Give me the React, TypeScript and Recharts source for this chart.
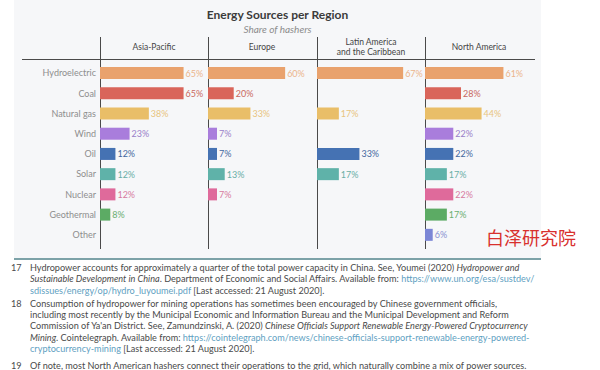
import { BarChart, Bar, XAxis, YAxis, Cell, LabelList } from 'recharts';

const CATEGORIES = [
  'Hydroelectric', 'Coal', 'Natural gas', 'Wind', 'Oil',
  'Solar', 'Nuclear', 'Geothermal', 'Other',
];

const REGIONS = ['Asia-Pacific', 'Europe', 'Latin America\nand the Caribbean', 'North America'];

const ASIA_PACIFIC = [65, 65, 38, 23, 12, 12, 12, 8, null];
const EUROPE = [60, 20, 33, 7, 7, 13, 7, null, null];
const LATIN_AMERICA = [67, null, 17, null, 33, 17, null, null, null];
const NORTH_AMERICA = [61, 28, 44, 22, 22, 17, 22, 17, 6];

const BAR_COLORS = [
  '#e9a26d', '#d9655a', '#e9be68', '#a97ddc', '#4572b3',
  '#5fb2a9', '#df6a9b', '#5cab64', '#7b86d6',
];
const LABEL_COLORS = [
  '#ebb48b', '#c9675e', '#e8c47e', '#9a80c9', '#44689f',
  '#69aea6', '#d67aa0', '#6aae70', '#8a92d2',
];

const KEYS = ['ap', 'eu', 'la', 'na'];
const SERIES = [ASIA_PACIFIC, EUROPE, LATIN_AMERICA, NORTH_AMERICA];

// each row also carries its category index per region, so labels can find their colour
const data = CATEGORIES.map((cat, i) => {
  const row: Record<string, any> = { cat };
  KEYS.forEach((k, s) => {
    row[k] = SERIES[s][i];
    row[k + 'Cat'] = SERIES[s][i] == null ? null : i;
  });
  return row;
});

const FONT = 'Lato, "Open Sans", sans-serif';
const PANEL_X = [100, 208, 317, 425];
const PANEL_W = 108;
const PLOT_TOP = 63;
const PLOT_H = 182;
const LABEL_W = 100;

function ValueLabel(props: any) {
  const { x, y, width, height, value, series } = props;
  if (value == null) return null;
  const v = SERIES[series][value];
  if (v == null) return null;
  return (
    <text
      x={x + width + 2}
      y={y + height / 2}
      dominantBaseline="central"
      fontSize={9}
      fontFamily={FONT}
      fill={LABEL_COLORS[value]}
    >
      {`${v}%`}
    </text>
  );
}

function Panel({ idx }: { idx: number }) {
  const key = KEYS[idx];
  const first = idx === 0;
  return (
    <div style={{ position: 'absolute', left: first ? 0 : PANEL_X[idx], top: PLOT_TOP }}>
      <BarChart
        width={first ? LABEL_W + PANEL_W : PANEL_W}
        height={PLOT_H}
        data={data}
        layout="vertical"
        margin={{ top: 0, right: 0, bottom: 0, left: 0 }}
        barCategoryGap="20%"
      >
        <XAxis type="number" domain={[0, 84]} hide />
        <YAxis
          type="category"
          dataKey="cat"
          hide={!first}
          width={first ? LABEL_W : 0}
          tickLine={false}
          axisLine={false}
          tickSize={0}
          tickMargin={4}
          tick={{ fontSize: 9, fill: '#8e8e8e', fontFamily: FONT }}
          interval={0}
        />
        <Bar dataKey={key} isAnimationActive={false}>
          {data.map((_, i) => (
            <Cell key={i} fill={BAR_COLORS[i]} />
          ))}
          <LabelList dataKey={key + 'Cat'} content={(p: any) => <ValueLabel {...p} series={idx} />} />
        </Bar>
      </BarChart>
    </div>
  );
}

const linkStyle = { color: '#5f9fc2' };

export default function App() {
  return (
    <div style={{ position: 'absolute', left: 0, top: 0, width: 600, height: 370, background: '#fff', overflow: 'hidden', fontFamily: FONT }}>
      <div style={{ position: 'absolute', left: 14, top: 0, width: 527, height: 258, background: '#f6f7f9' }} />
      <div style={{ position: 'absolute', left: 14, top: 258, width: 527, height: 2, background: '#7ca2a8' }} />

      <div style={{ position: 'absolute', left: 14, width: 527, top: 7, textAlign: 'center', fontSize: 12, fontWeight: 700, color: '#3b3b3b' }}>
        Energy Sources per Region
      </div>
      <div style={{ position: 'absolute', left: 14, width: 527, top: 23, textAlign: 'center', fontSize: 10, fontStyle: 'italic', color: '#8c8c8c' }}>
        Share of hashers
      </div>

      {REGIONS.map((r, i) => (
        <div
          key={r}
          style={{
            position: 'absolute', left: PANEL_X[i], width: PANEL_W, top: r.includes('\n') ? 38 : 43,
            textAlign: 'center', fontSize: 8.5, lineHeight: '9.5px', color: '#444', whiteSpace: 'pre',
          }}
        >
          {r}
        </div>
      ))}

      <div style={{ position: 'absolute', left: 22, top: 58.5, width: 513, height: 1.5, background: '#4a4a4a' }} />
      {PANEL_X.map(x => (
        <div key={x} style={{ position: 'absolute', left: x - 0.5, top: 37, width: 1.5, height: 212, background: '#4a4a4a' }} />
      ))}

      {[0, 1, 2, 3].map(i => <Panel key={i} idx={i} />)}

      <div style={{ position: 'absolute', left: 486, top: 224, fontSize: 18, color: '#d8302d', fontFamily: '"Noto Sans CJK SC", sans-serif', whiteSpace: 'nowrap' }}>
        白泽研究院
      </div>

      <div style={{ position: 'absolute', left: 0, top: 262, width: 600, fontSize: 9.15, lineHeight: '11.3px', color: '#4a4a4a', whiteSpace: 'nowrap' }}>
        <div style={{ position: 'relative', paddingLeft: 30 }}>
          <span style={{ position: 'absolute', left: 11 }}>17</span>
          <div>Hydropower accounts for approximately a quarter of the total power capacity in China. See, Youmei (2020) <i>Hydropower and</i></div>
          <div><i>Sustainable Development in China</i>. Department of Economic and Social Affairs. Available from: <span style={linkStyle}>https://www.un.org/esa/sustdev/</span></div>
          <div><span style={linkStyle}>sdissues/energy/op/hydro_luyoumei.pdf</span> [Last accessed: 21 August 2020].</div>
        </div>
        <div style={{ position: 'relative', paddingLeft: 30, marginTop: 2 }}>
          <span style={{ position: 'absolute', left: 11 }}>18</span>
          <div>Consumption of hydropower for mining operations has sometimes been encouraged by Chinese government officials,</div>
          <div>including most recently by the Municipal Economic and Information Bureau and the Municipal Development and Reform</div>
          <div>Commission of Ya'an District. See, Zamundzinski, A. (2020) <i>Chinese Officials Support Renewable Energy-Powered Cryptocurrency</i></div>
          <div><i>Mining</i>. Cointelegraph. Available from: <span style={linkStyle}>https://cointelegraph.com/news/chinese-officials-support-renewable-energy-powered-</span></div>
          <div><span style={linkStyle}>cryptocurrency-mining</span> [Last accessed: 21 August 2020].</div>
        </div>
        <div style={{ position: 'relative', paddingLeft: 30, marginTop: 6 }}>
          <span style={{ position: 'absolute', left: 11 }}>19</span>
          <div>Of note, most North American hashers connect their operations to the grid, which naturally combine a mix of power sources.</div>
        </div>
      </div>
    </div>
  );
}
